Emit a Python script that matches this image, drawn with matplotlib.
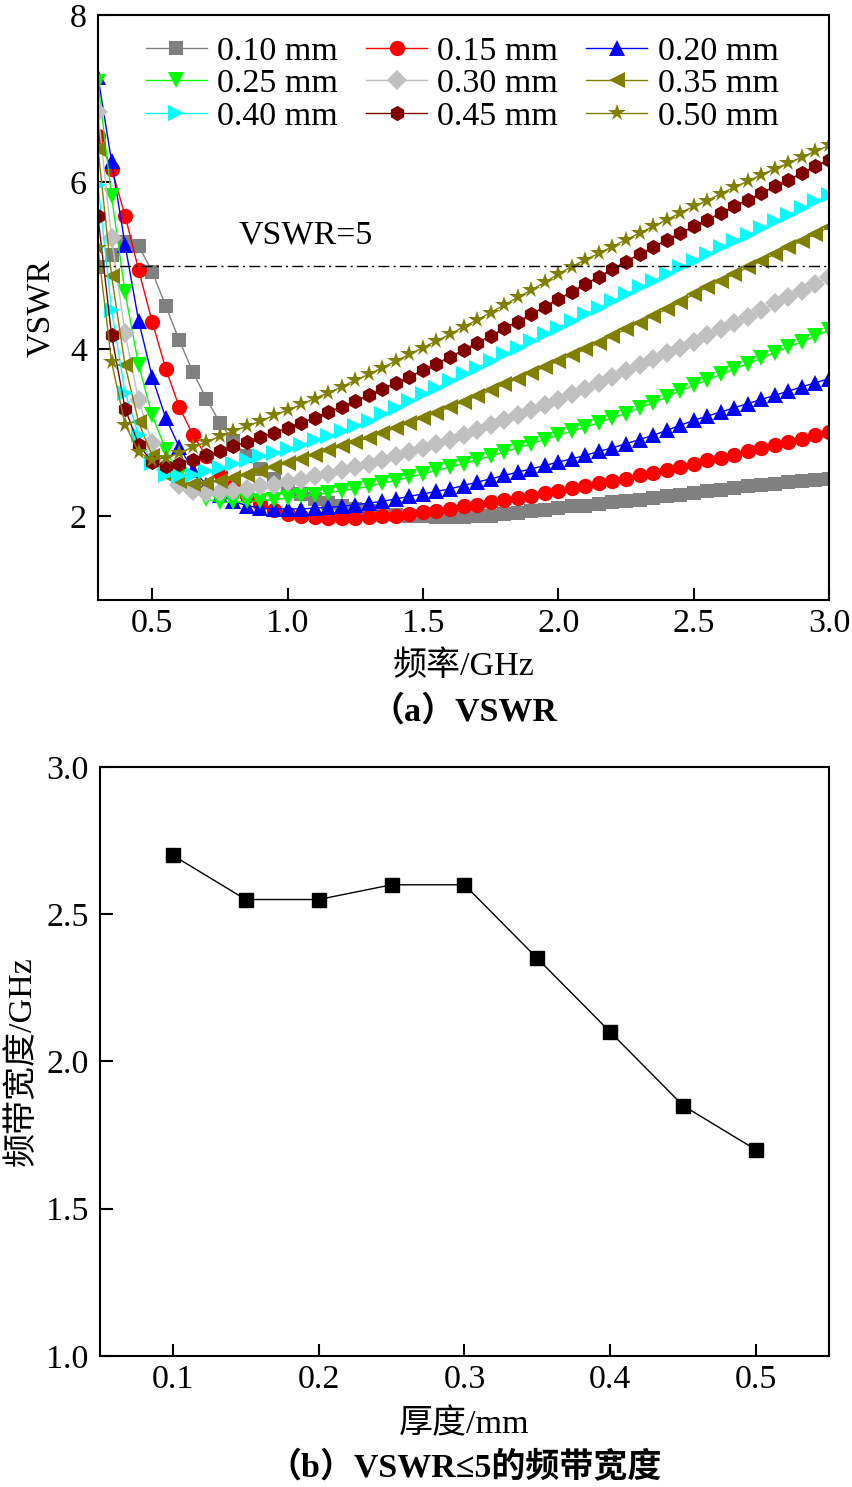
import matplotlib
matplotlib.use("Agg")
import matplotlib.pyplot as plt

plt.rcParams['font.family'] = ['Liberation Serif', 'Noto Sans CJK SC']
plt.rcParams['mathtext.fontset'] = 'stix'

# frequency points (GHz)
freq = [0.30, 0.35, 0.40, 0.45, 0.50, 0.55, 0.60, 0.65, 0.70, 0.75,
        0.80, 0.85, 0.90, 0.95, 1.00, 1.05, 1.10, 1.15, 1.20, 1.25,
        1.30, 1.35, 1.40, 1.45, 1.50, 1.55, 1.60, 1.65, 1.70, 1.75,
        1.80, 1.85, 1.90, 1.95, 2.00, 2.05, 2.10, 2.15, 2.20, 2.25,
        2.30, 2.35, 2.40, 2.45, 2.50, 2.55, 2.60, 2.65, 2.70, 2.75,
        2.80, 2.85, 2.90, 2.95, 3.00]

vswr_010 = [4.98, 5.13, 5.28, 5.24, 4.93, 4.52, 4.11, 3.73, 3.41, 3.12,
            2.90, 2.72, 2.57, 2.45, 2.35, 2.27, 2.21, 2.16, 2.12, 2.09,
            2.06, 2.04, 2.02, 2.01, 2.00, 1.99, 1.99, 1.99, 2.00, 2.01,
            2.03, 2.04, 2.06, 2.08, 2.10, 2.12, 2.13, 2.15, 2.17, 2.19,
            2.20, 2.22, 2.24, 2.26, 2.28, 2.30, 2.32, 2.34, 2.36, 2.38,
            2.39, 2.41, 2.42, 2.44, 2.45]
vswr_015 = [6.55, 6.16, 5.60, 4.95, 4.33, 3.77, 3.31, 2.98, 2.72, 2.52,
            2.36, 2.24, 2.15, 2.08, 2.03, 2.00, 1.99, 1.98, 1.98, 1.98,
            1.99, 2.00, 2.01, 2.03, 2.05, 2.07, 2.09, 2.12, 2.14, 2.17,
            2.20, 2.22, 2.25, 2.28, 2.31, 2.34, 2.37, 2.40, 2.42, 2.45,
            2.49, 2.52, 2.56, 2.59, 2.63, 2.67, 2.70, 2.74, 2.78, 2.82,
            2.85, 2.89, 2.93, 2.97, 3.01]
vswr_020 = [7.26, 6.25, 5.25, 4.34, 3.67, 3.18, 2.83, 2.56, 2.38, 2.26,
            2.18, 2.13, 2.10, 2.09, 2.09, 2.09, 2.10, 2.11, 2.12, 2.14,
            2.16, 2.18, 2.21, 2.24, 2.27, 2.30, 2.33, 2.37, 2.41, 2.45,
            2.49, 2.53, 2.57, 2.61, 2.65, 2.69, 2.73, 2.78, 2.82, 2.87,
            2.92, 2.97, 3.03, 3.09, 3.15, 3.20, 3.25, 3.30, 3.35, 3.40,
            3.45, 3.50, 3.55, 3.60, 3.65]
vswr_025 = [7.20, 5.83, 4.68, 3.81, 3.21, 2.80, 2.50, 2.31, 2.21, 2.17,
            2.17, 2.18, 2.19, 2.20, 2.22, 2.24, 2.26, 2.28, 2.31, 2.33,
            2.36, 2.40, 2.43, 2.47, 2.51, 2.55, 2.59, 2.63, 2.68, 2.72,
            2.77, 2.82, 2.87, 2.92, 2.97, 3.02, 3.07, 3.12, 3.18, 3.23,
            3.30, 3.36, 3.43, 3.50, 3.57, 3.63, 3.70, 3.76, 3.83, 3.89,
            3.96, 4.03, 4.09, 4.16, 4.23]
vswr_030 = [6.84, 5.33, 4.19, 3.39, 2.88, 2.55, 2.38, 2.30, 2.28, 2.29,
            2.31, 2.33, 2.36, 2.38, 2.41, 2.44, 2.48, 2.51, 2.55, 2.59,
            2.63, 2.67, 2.72, 2.77, 2.82, 2.87, 2.92, 2.97, 3.03, 3.09,
            3.15, 3.21, 3.27, 3.33, 3.39, 3.46, 3.53, 3.60, 3.67, 3.74,
            3.81, 3.88, 3.95, 4.02, 4.09, 4.17, 4.24, 4.32, 4.39, 4.47,
            4.55, 4.62, 4.70, 4.78, 4.86]
vswr_035 = [6.40, 4.88, 3.81, 3.13, 2.72, 2.50, 2.42, 2.39, 2.40, 2.43,
            2.46, 2.50, 2.54, 2.59, 2.64, 2.69, 2.74, 2.79, 2.84, 2.89,
            2.94, 3.00, 3.06, 3.12, 3.18, 3.24, 3.31, 3.37, 3.44, 3.51,
            3.58, 3.65, 3.72, 3.79, 3.86, 3.93, 4.00, 4.08, 4.16, 4.24,
            4.32, 4.40, 4.48, 4.56, 4.66, 4.74, 4.82, 4.90, 4.98, 5.06,
            5.14, 5.22, 5.30, 5.38, 5.46]
vswr_040 = [5.97, 4.47, 3.48, 2.98, 2.64, 2.50, 2.48, 2.50, 2.54, 2.58,
            2.63, 2.67, 2.72, 2.76, 2.81, 2.86, 2.91, 2.96, 3.02, 3.08,
            3.14, 3.22, 3.30, 3.38, 3.46, 3.54, 3.62, 3.70, 3.78, 3.86,
            3.94, 4.02, 4.10, 4.18, 4.26, 4.34, 4.42, 4.50, 4.58, 4.66,
            4.74, 4.82, 4.90, 4.98, 5.06, 5.14, 5.22, 5.30, 5.37, 5.45,
            5.53, 5.61, 5.69, 5.77, 5.85]
vswr_045 = [5.59, 4.17, 3.29, 2.86, 2.65, 2.60, 2.63, 2.68, 2.73, 2.78,
            2.84, 2.89, 2.95, 3.00, 3.06, 3.12, 3.18, 3.25, 3.31, 3.38,
            3.45, 3.52, 3.60, 3.67, 3.75, 3.83, 3.91, 3.99, 4.08, 4.16,
            4.25, 4.33, 4.42, 4.51, 4.60, 4.69, 4.78, 4.87, 4.96, 5.05,
            5.14, 5.22, 5.31, 5.39, 5.47, 5.55, 5.63, 5.71, 5.79, 5.87,
            5.95, 6.03, 6.11, 6.19, 6.27]
vswr_050 = [5.21, 3.85, 3.10, 2.77, 2.68, 2.70, 2.76, 2.83, 2.89, 2.96,
            3.02, 3.08, 3.14, 3.21, 3.27, 3.34, 3.41, 3.48, 3.55, 3.63,
            3.70, 3.78, 3.86, 3.94, 4.02, 4.10, 4.18, 4.27, 4.35, 4.44,
            4.53, 4.62, 4.71, 4.80, 4.90, 4.99, 5.07, 5.15, 5.23, 5.31,
            5.39, 5.47, 5.55, 5.63, 5.71, 5.78, 5.86, 5.94, 6.01, 6.09,
            6.16, 6.23, 6.30, 6.37, 6.44]

series = [vswr_010, vswr_015, vswr_020, vswr_025, vswr_030,
          vswr_035, vswr_040, vswr_045, vswr_050]
labels = ['0.10 mm', '0.15 mm', '0.20 mm', '0.25 mm', '0.30 mm',
          '0.35 mm', '0.40 mm', '0.45 mm', '0.50 mm']
colors = ['#808080', '#FF0000', '#0000FF', '#00FF00', '#C0C0C0',
          '#808000', '#00FFFF', '#800000', '#808000']
markers = ['s', 'o', '^', 'v', 'D', '<', '>', 'h', '*']
msizes = [10, 11, 12, 12, 10, 12, 12, 11, 13]

# bandwidth with VSWR <= 5
thickness = [0.10, 0.15, 0.20, 0.25, 0.30, 0.35, 0.40, 0.45, 0.50]
bandwidth = [2.70, 2.55, 2.55, 2.60, 2.60, 2.35, 2.10, 1.85, 1.70]

fig = plt.figure(figsize=(8.53, 14.87), dpi=100)
ax1 = fig.add_axes([0.1149, 0.5965, 0.857, 0.3934])
ax2 = fig.add_axes([0.1172, 0.0881, 0.8546, 0.3961])

fs = 24.5

handles = []
for y, lab, c, m, ms in zip(series, labels, colors, markers, msizes):
    h, = ax1.plot(freq, y, color=c, marker=m, markersize=ms, lw=1.0,
                  markeredgewidth=0, label=lab)
    handles.append(h)

ax1.plot([0.3, 3.0], [5, 5], color='black', lw=1.0, ls='-.', dashes=(8, 3, 1.5, 3))
ax1.text(0.82, 5.36, 'VSWR=5', fontsize=fs, va='center', ha='left')

order = [0, 3, 6, 1, 4, 7, 2, 5, 8]
ax1.legend([handles[i] for i in order], [labels[i] for i in order], ncol=3,
           loc='upper center', bbox_to_anchor=(0.498, 1.005), frameon=False,
           fontsize=fs, handlelength=1.8, handletextpad=0.3, columnspacing=0.82,
           labelspacing=0.05, borderaxespad=0.3)

ax1.set_xlim(0.3, 3.0)
ax1.set_ylim(1, 8)
ax1.set_xticks([0.5, 1.0, 1.5, 2.0, 2.5, 3.0])
ax1.set_xticklabels(['0.5', '1.0', '1.5', '2.0', '2.5', '3.0'])
ax1.set_yticks([2, 4, 6, 8])
ax1.set_yticklabels(['2', '4', '6', '8'])
ax1.set_ylabel('VSWR', fontsize=fs, labelpad=10)
ax1.set_xlabel('频率/GHz', fontsize=fs, labelpad=8)
ax1.text(0.5, -0.19, '（a）VSWR', transform=ax1.transAxes, ha='center', va='center',
         fontsize=fs, fontweight='bold')

ax2.plot(thickness, bandwidth, color='black', marker='s', markersize=9.5, lw=1.0)
ax2.set_xlim(0.05, 0.55)
ax2.set_ylim(1.0, 3.0)
ax2.set_xticks([0.1, 0.2, 0.3, 0.4, 0.5])
ax2.set_xticklabels(['0.1', '0.2', '0.3', '0.4', '0.5'])
ax2.set_yticks([1.0, 1.5, 2.0, 2.5, 3.0])
ax2.set_yticklabels(['1.0', '1.5', '2.0', '2.5', '3.0'])
ax2.set_ylabel('频带宽度/GHz', fontsize=fs, labelpad=6)
ax2.set_xlabel('厚度/mm', fontsize=fs, labelpad=10)
ax2.text(0.5, -0.19, '（b）VSWR≤5的频带宽度', transform=ax2.transAxes, ha='center',
         va='center', fontsize=fs, fontweight='bold')

for ax in (ax1, ax2):
    ax.tick_params(direction='in', length=9, width=1.5, labelsize=fs,
                   top=False, right=False)
    ax.tick_params(axis='x', pad=6)
    ax.tick_params(axis='y', pad=8)
    for sp in ax.spines.values():
        sp.set_linewidth(1.5)

fig.savefig('out.png', dpi=100)
